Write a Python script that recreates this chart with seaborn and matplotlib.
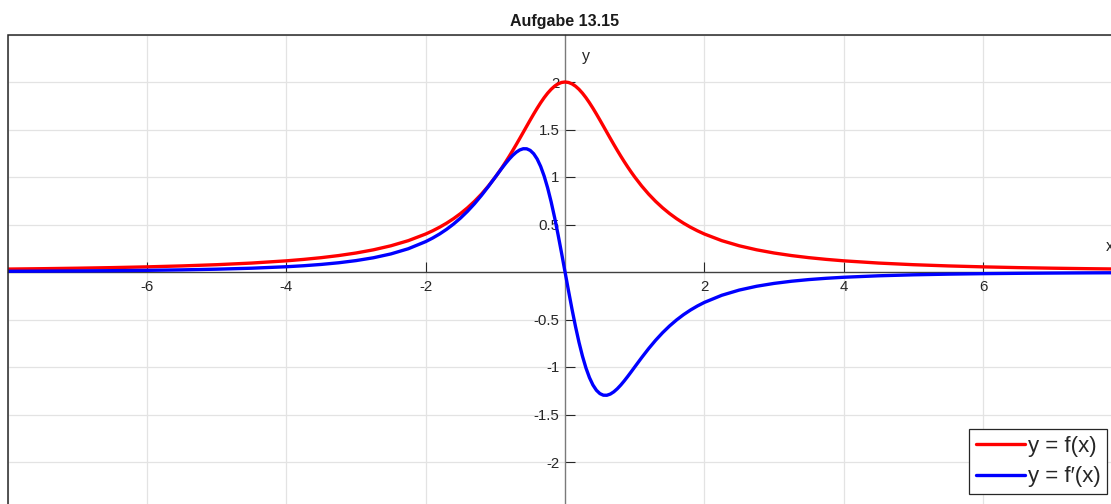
import matplotlib
matplotlib.use("Agg")
import matplotlib.pyplot as plt
import seaborn as sns
import pandas as pd
from matplotlib.patches import Rectangle

# ---- data: f(x) (red) and f'(x) (blue) ----
x_vals = [-8, -7.5, -7, -6.5, -6, -5.5, -5, -4.5, -4, -3.75, -3.5, -3.25, -3, -2.75,
          -2.5, -2.25, -2, -1.9, -1.8, -1.7, -1.6, -1.5, -1.4, -1.3, -1.2, -1.1, -1.0,
          -0.95, -0.9, -0.85, -0.8, -0.75, -0.7, -0.65, -0.6, -0.55, -0.5, -0.45, -0.4,
          -0.35, -0.3, -0.25, -0.2, -0.15, -0.1, -0.05, 0.0,
          0.05, 0.1, 0.15, 0.2, 0.25, 0.3, 0.35, 0.4, 0.45, 0.5, 0.55, 0.6, 0.65, 0.7,
          0.75, 0.8, 0.85, 0.9, 0.95, 1.0, 1.1, 1.2, 1.3, 1.4, 1.5, 1.6, 1.7, 1.8, 1.9,
          2, 2.25, 2.5, 2.75, 3, 3.25, 3.5, 3.75, 4, 4.5, 5, 5.5, 6, 6.5, 7, 7.5, 8]
f_vals = [0.0308, 0.0349, 0.0400, 0.0462, 0.0541, 0.0640, 0.0769, 0.0941, 0.1176,
          0.1328, 0.1509, 0.1730, 0.2000, 0.2336, 0.2759, 0.3299, 0.4000, 0.4338,
          0.4717, 0.5141, 0.5618, 0.6154, 0.6757, 0.7435, 0.8197, 0.9050, 1.0000,
          1.0513, 1.1050, 1.1611, 1.2195, 1.2800, 1.3423, 1.4060, 1.4706, 1.5355,
          1.6000, 1.6632, 1.7241, 1.7817, 1.8349, 1.8824, 1.9231, 1.9560, 1.9802,
          1.9950, 2.0000,
          1.9950, 1.9802, 1.9560, 1.9231, 1.8824, 1.8349, 1.7817, 1.7241, 1.6632,
          1.6000, 1.5355, 1.4706, 1.4060, 1.3423, 1.2800, 1.2195, 1.1611, 1.1050,
          1.0513, 1.0000, 0.9050, 0.8197, 0.7435, 0.6757, 0.6154, 0.5618, 0.5141,
          0.4717, 0.4338, 0.4000, 0.3299, 0.2759, 0.2336, 0.2000, 0.1730, 0.1509,
          0.1328, 0.1176, 0.0941, 0.0769, 0.0640, 0.0541, 0.0462, 0.0400, 0.0349, 0.0308]
df_vals = [0.0076, 0.0092, 0.0112, 0.0139, 0.0175, 0.0225, 0.0296, 0.0399, 0.0554,
           0.0661, 0.0797, 0.0972, 0.1200, 0.1500, 0.1903, 0.2449, 0.3200, 0.3576,
           0.4005, 0.4494, 0.5050, 0.5681, 0.6392, 0.7186, 0.8062, 0.9009, 1.0000,
           1.0499, 1.0989, 1.1459, 1.1898, 1.2288, 1.2612, 1.2849, 1.2976, 1.2968,
           1.2800, 1.2448, 1.1891, 1.1111, 1.0100, 0.8858, 0.7396, 0.5739, 0.3921,
           0.1990, 0.0000,
           -0.1990, -0.3921, -0.5739, -0.7396, -0.8858, -1.0100, -1.1111, -1.1891,
           -1.2448, -1.2800, -1.2968, -1.2976, -1.2849, -1.2612, -1.2288, -1.1898,
           -1.1459, -1.0989, -1.0499, -1.0000, -0.9009, -0.8062, -0.7186, -0.6392,
           -0.5681, -0.5050, -0.4494, -0.4005, -0.3576, -0.3200, -0.2449, -0.1903,
           -0.1500, -0.1200, -0.0972, -0.0797, -0.0661, -0.0554, -0.0399, -0.0296,
           -0.0225, -0.0175, -0.0139, -0.0112, -0.0092, -0.0076]

x_ticks = [-6, -4, -2, 2, 4, 6]
y_ticks = [-2, -1.5, -1, -0.5, 0.5, 1, 1.5, 2]
x_tick_labels = ["-6", "-4", "-2", "2", "4", "6"]
y_tick_labels = ["-2", "-1.5", "-1", "-0.5", "0.5", "1", "1.5", "2"]
x_grid = [-8, -6, -4, -2, 2, 4, 6, 8]
y_grid = [-2.5, -2, -1.5, -1, -0.5, 0.5, 1, 1.5, 2, 2.5]
series_labels = ["y = f(x)", "y = f\u2032(x)"]
title = "Aufgabe 13.15"

sns.set_style("white")
plt.rcParams["font.family"] = ["Liberation Sans", "DejaVu Sans"]

W, H = 1111, 504
fig = plt.figure(figsize=(W / 100, H / 100), dpi=100)
# axes box: left 7.7px, right 1122.4px, top 34.5px, bottom 509.5px
ax = fig.add_axes([7.7 / W, (H - 509.5) / H, (1122.4 - 7.7) / W, (509.5 - 34.5) / H])

data = pd.DataFrame({"x": x_vals, "f": f_vals, "df": df_vals})
sns.lineplot(data=data, x="x", y="f", ax=ax, color="#ff0000", linewidth=2.4,
             label=series_labels[0], sort=False, zorder=4,
             solid_joinstyle="round", solid_capstyle="round")
sns.lineplot(data=data, x="x", y="df", ax=ax, color="#0000ff", linewidth=2.4,
             label=series_labels[1], sort=False, zorder=5,
             solid_joinstyle="round", solid_capstyle="round")

ax.set_xlim(-8, 8)
ax.set_ylim(-2.5, 2.5)

# grid
for gx in x_grid:
    ax.axvline(gx, color="#e3e3e3", linewidth=0.9, zorder=0)
for gy in y_grid:
    ax.axhline(gy, color="#e3e3e3", linewidth=0.9, zorder=0)

# axes through origin
for s in ["top", "right"]:
    ax.spines[s].set_visible(False)
ax.spines["left"].set_position(("data", 0))
ax.spines["bottom"].set_position(("data", 0))
ax.spines["left"].set_color("#7a7a7a")
ax.spines["bottom"].set_color("#404040")
ax.spines["left"].set_linewidth(1.0)
ax.spines["bottom"].set_linewidth(1.0)
ax.spines["left"].set_zorder(3)
ax.spines["bottom"].set_zorder(3)

ax.set_xticks(x_ticks)
ax.set_xticklabels(x_tick_labels)
ax.set_yticks(y_ticks)
ax.set_yticklabels(y_tick_labels)
ax.tick_params(axis="x", direction="in", length=7, width=0.8, color="#262626",
               labelsize=10.8, labelcolor="#262626", pad=6, bottom=True)
ax.tick_params(axis="y", direction="in", length=7, width=0.8, color="#262626",
               labelsize=10.8, labelcolor="#262626", pad=4, left=True)
ax.set_xlabel("")
ax.set_ylabel("")

# outer frame
ax.add_patch(Rectangle((0, 0), 1, 1, transform=ax.transAxes, fill=False,
                       edgecolor="#262626", linewidth=1.1, clip_on=False, zorder=6))

# axis labels near the origin axes
ax.text(0.3, 2.27, "y", fontsize=11.5, color="#262626", ha="center", va="center")
ax.text(7.82, 0.27, "x", fontsize=11.5, color="#262626", ha="center", va="center")

ax.set_title(title, fontsize=11.5, fontweight="bold", color="#1a1a1a", pad=6)

leg = ax.legend(loc="lower right", bbox_to_anchor=(1107 / W, (H - 494) / H),
                bbox_transform=fig.transFigure, borderaxespad=0, fontsize=16,
                frameon=True, fancybox=False, framealpha=1, edgecolor="#262626",
                handlelength=2.2, handletextpad=0.12, borderpad=0.3,
                labelspacing=0.42)
leg.get_frame().set_linewidth(0.9)
leg.set_zorder(10)

fig.savefig("out.png", dpi=100)
